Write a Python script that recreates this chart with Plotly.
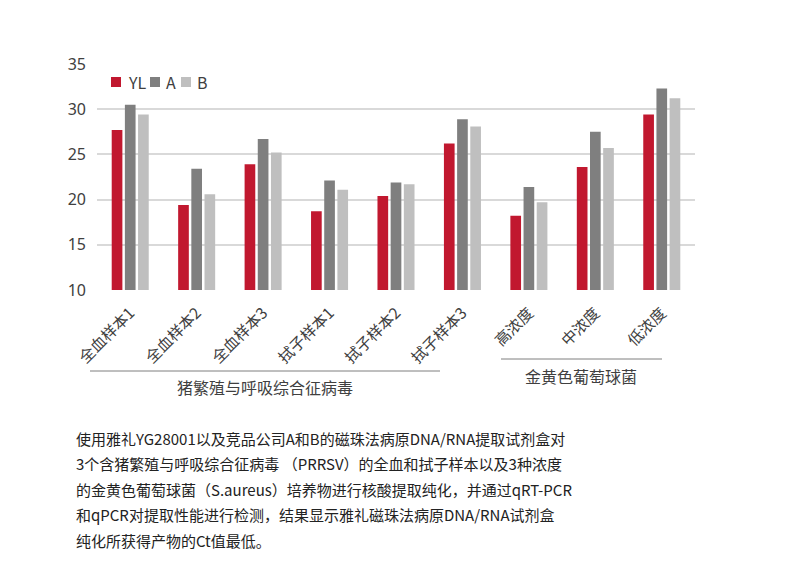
import plotly.graph_objects as go

categories = ["全血样本1", "全血样本2", "全血样本3", "拭子样本1", "拭子样本2", "拭子样本3", "高浓度", "中浓度", "低浓度"]
yl_values = [27.7, 19.4, 23.9, 18.7, 20.4, 26.2, 18.2, 23.6, 29.4]
a_values = [30.5, 23.4, 26.7, 22.1, 21.9, 28.9, 21.4, 27.5, 32.3]
b_values = [29.4, 20.6, 25.2, 21.1, 21.7, 28.1, 19.7, 25.7, 31.2]
series_names = ["YL", "A", "B"]
series_colors = ["#C1182F", "#7F7F7F", "#BFBFBF"]
y_ticks = [10, 15, 20, 25, 30, 35]
group_labels = ["猪繁殖与呼吸综合征病毒", "金黄色葡萄球菌"]
caption_lines = [
    "使用雅礼YG28001以及竞品公司A和B的磁珠法病原DNA/RNA提取试剂盒对",
    "3个含猪繁殖与呼吸综合征病毒 （PRRSV）的全血和拭子样本以及3种浓度",
    "的金黄色葡萄球菌（S.aureus）培养物进行核酸提取纯化，并通过qRT-PCR",
    "和qPCR对提取性能进行检测，结果显示雅礼磁珠法病原DNA/RNA试剂盒",
    "纯化所获得产物的Ct值最低。",
]

W, H = 789, 585
L, R, T, B = 97, 94, 64, 295
PW, PH = W - L - R, H - T - B
FONT = "Noto Sans CJK SC, Noto Sans, sans-serif"


def px(x):
    return (x - L) / PW


def py(y):
    return (H - B - y) / PH


fig = go.Figure()
for name, vals, col in zip(series_names, [yl_values, a_values, b_values], series_colors):
    fig.add_trace(go.Bar(x=categories, y=vals, name=name, marker_color=col,
                         marker_line_width=0, showlegend=False))

annotations = []
shapes = []

# custom compact legend
legend_pos = [(111, 126), (150, 164), (181, 195)]
for (sx, tx), name, col in zip(legend_pos, series_names, series_colors):
    shapes.append(dict(type="rect", xref="paper", yref="paper",
                       x0=px(sx), x1=px(sx + 10), y0=py(87), y1=py(77),
                       fillcolor=col, line_width=0))
    annotations.append(dict(x=px(tx), y=py(82), xref="paper", yref="paper",
                            text=name, showarrow=False, xanchor="left", yanchor="middle",
                            font=dict(size=16, color="#404040", family=FONT)))

# group lines and labels
shapes.append(dict(type="line", xref="paper", yref="paper", x0=px(90), x1=px(440),
                   y0=py(371), y1=py(371), line=dict(color="#7F7F7F", width=1)))
shapes.append(dict(type="line", xref="paper", yref="paper", x0=px(501), x1=px(662),
                   y0=py(359), y1=py(359), line=dict(color="#7F7F7F", width=1)))
annotations.append(dict(x=px(265), y=py(387), xref="paper", yref="paper", text=group_labels[0],
                        showarrow=False, xanchor="center", yanchor="middle",
                        font=dict(size=16, color="#404040", family=FONT)))
annotations.append(dict(x=px(581), y=py(376), xref="paper", yref="paper", text=group_labels[1],
                        showarrow=False, xanchor="center", yanchor="middle",
                        font=dict(size=16, color="#404040", family=FONT)))

# caption
for i, line in enumerate(caption_lines):
    annotations.append(dict(x=px(74), y=py(438 + i * 25.6), xref="paper", yref="paper", text=line,
                            showarrow=False, xanchor="left", yanchor="middle",
                            font=dict(size=15, color="#222222", family=FONT)))

fig.update_layout(
    width=W, height=H,
    margin=dict(l=L, r=R, t=T, b=B, pad=0),
    paper_bgcolor="white", plot_bgcolor="white",
    barmode="group", bargap=0.405, bargroupgap=0.19,
    font=dict(family=FONT, color="#404040"),
    xaxis=dict(tickangle=-45, tickfont=dict(size=15.5, color="#404040", family=FONT),
               showgrid=False, showline=False, ticks="", ticklabelstandoff=10,
               automargin=False, fixedrange=True),
    yaxis=dict(range=[10, 35], tickvals=y_ticks, tickfont=dict(size=16, color="#404040", family="Noto Sans"),
               showgrid=True, gridcolor="#D9D9D9", gridwidth=1.5, zeroline=False, showline=False,
               ticks="", ticklabelstandoff=10, automargin=False, fixedrange=True),
    annotations=annotations,
    shapes=shapes,
)

fig.write_html("out.html")
